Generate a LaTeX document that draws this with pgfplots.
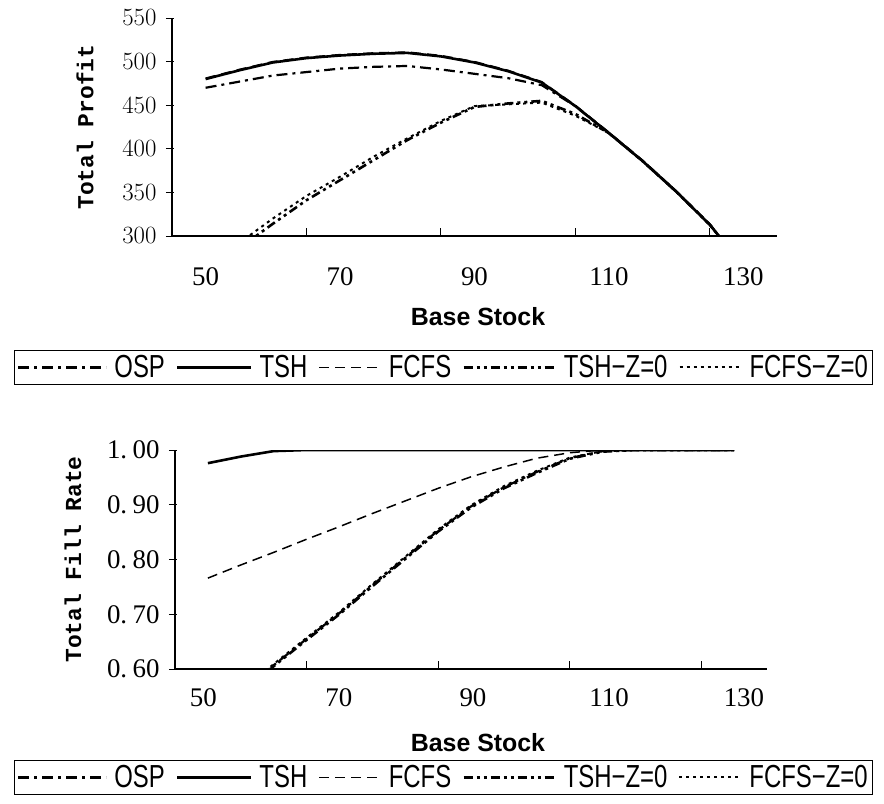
\documentclass[border=0pt]{standalone}
\usepackage{pgfplots}
\pgfplotsset{compat=1.18}
\usepackage{fontspec}
\usepackage{graphicx}
\setmainfont{Liberation Serif}
\newfontfamily\monob{Liberation Mono}
\newfontfamily\sansn{Liberation Sans}
\newcommand\tickfont{\fontsize{27}{27}\selectfont}
\newcommand\labfont{\fontsize{23}{23}\selectfont\monob\bfseries}
\newcommand\xlabfont{\fontsize{25}{25}\selectfont\sansn\bfseries}
\newcommand\legfont{\fontsize{32}{32}\selectfont\sansn}
\newcommand\legtxt[1]{\hspace{5bp}\scalebox{0.75}[1]{#1}}

\pgfplotstableread{
bs   osp  tsh  fcfs tshz fcfsz
50   470  480  481  250  262
55   477  490  491  286  292
60   484  499  500  314  320
65   488  504  505  341  346
70   492  507  508  364  368
75   494  509  510  387  391
80   495  510  511  410  412
85   491  506  507  430  432
90   486  499  500  448  449
95   481  489  490  452  451
100  473  476  477  455  453
105  449  449  450  440  438
110  418  418  419  418  418
115  386  386  387  386  386
120  351  351  352  351  351
125  313  313  314  313  313
130  265  265  266  265  265
}\profit

\pgfplotstableread{
bs   osp    tsh    fcfs   tshz   fcfsz
50   0.500  0.976  0.766  0.498  0.502
55   0.555  0.988  0.790  0.553  0.557
60   0.607  0.998  0.813  0.605  0.609
65   0.655  1.000  0.837  0.653  0.657
70   0.702  1.000  0.860  0.700  0.704
75   0.753  1.000  0.884  0.751  0.755
80   0.803  1.000  0.907  0.801  0.805
85   0.853  1.000  0.930  0.851  0.855
90   0.897  1.000  0.951  0.895  0.899
95   0.932  1.000  0.969  0.930  0.934
100  0.960  1.000  0.985  0.958  0.962
105  0.985  1.000  0.995  0.984  0.986
110  0.998  1.000  1.000  0.997  0.998
115  1.000  1.000  1.000  1.000  1.000
120  1.000  1.000  1.000  1.000  1.000
125  1.000  1.000  1.000  1.000  1.000
130  1.000  1.000  1.000  1.000  1.000
}\fillrate

\pgfplotsset{
  common/.style={
    scale only axis,
    xmin=45, xmax=135,
    axis lines*=left,
    axis line style={line width=1.5bp},
    tick align=inside,
    major tick length=8bp,
    tick style={line width=1bp, black},
    major y tick style={xshift=-6bp},
    xtick={65,85,105,125},
    xticklabels={},
    yticklabel style={xshift=-12bp},
    tick label style={font=\tickfont},
    legend columns=5,
    legend cell align=left,
    legend style={draw=black, line width=1.2bp, font=\legfont, anchor=north,
      inner xsep=3bp, inner ysep=1bp,
      /tikz/every even column/.append style={column sep=9bp},
      nodes={inner xsep=2bp, inner ysep=4bp}},
    every axis y label/.append style={font=\labfont},
    every axis x label/.append style={font=\xlabfont},
  },
  osp/.style={black, line width=2.2bp, dash pattern=on 11bp off 5bp on 3bp off 5bp,
    legend image code/.code={\draw[##1] (0bp,0bp) -- (88bp,0bp);}},
  tsh/.style={black, line width=2.6bp,
    legend image code/.code={\draw[##1] (0bp,0bp) -- (74bp,0bp);}},
  fcfs/.style={black, line width=1.5bp, dash pattern=on 10bp off 6bp,
    legend image code/.code={\draw[##1] (0bp,0bp) -- (62bp,0bp);}},
  tshz/.style={black, line width=2.6bp, dash pattern=on 9bp off 4bp on 3bp off 4bp on 3bp off 4bp,
    legend image code/.code={\draw[##1] (0bp,0bp) -- (92bp,0bp);}},
  fcfsz/.style={black, line width=2bp, dash pattern=on 3bp off 4bp,
    legend image code/.code={\draw[##1] (0bp,0bp) -- (62bp,0bp);}},
}

\begin{document}
\begin{tikzpicture}
\useasboundingbox (0bp,0bp) rectangle (884bp,-804bp);

\begin{axis}[common,
  at={(172bp,-236bp)}, anchor=south west,
  width=605bp, height=218bp,
  ymin=300, ymax=550,
  ytick={300,350,...,550},
  extra x ticks={50,70,90,110,130},
  extra x tick labels={50,70,90,110,130},
  extra x tick style={major tick length=0pt, xticklabel style={yshift=-28bp}},
  ylabel={Total Profit},
  ylabel style={at={(axis description cs:-0.1438,0.5)}, anchor=center, rotate=0},
  xlabel={Base Stock},
  xlabel style={at={(axis description cs:0.5058,-0.3716)}, anchor=center},
  legend style={at={(0.4488,-0.5229)}},
]
\addplot[osp] table[x=bs,y=osp] {\profit};
\addplot[tsh] table[x=bs,y=tsh] {\profit};
\addplot[fcfs] table[x=bs,y=fcfs] {\profit};
\addplot[tshz] table[x=bs,y=tshz] {\profit};
\addplot[fcfsz] table[x=bs,y=fcfsz] {\profit};
\legend{\legtxt{OSP},\legtxt{TSH},\legtxt{FCFS},\legtxt{TSH−Z=0},\legtxt{FCFS−Z=0}}
\end{axis}

\begin{axis}[common,
  at={(175bp,-669bp)}, anchor=south west,
  width=592bp, height=219bp,
  ymin=0.6, ymax=1.0,
  ytick={0.6,0.7,0.8,0.9,1.0},
  yticklabels={0.\hspace{0.2em}60,0.\hspace{0.2em}70,0.\hspace{0.2em}80,0.\hspace{0.2em}90,1.\hspace{0.2em}00},
  extra x ticks={49.3,69.9,90.3,111,131.5},
  extra x tick labels={50,70,90,110,130},
  extra x tick style={major tick length=0pt, xticklabel style={yshift=-16bp}},
  ylabel={Total Fill Rate},
  ylabel style={at={(axis description cs:-0.1723,0.5)}, anchor=center, rotate=0},
  xlabel={Base Stock},
  xlabel style={at={(axis description cs:0.5118,-0.338)}, anchor=center},
  legend style={at={(0.4535,-0.4155)}},
]
\addplot[osp] table[x=bs,y=osp] {\fillrate};
\addplot[tsh] table[x=bs,y=tsh] {\fillrate};
\addplot[fcfs] table[x=bs,y=fcfs] {\fillrate};
\addplot[tshz] table[x=bs,y=tshz] {\fillrate};
\addplot[fcfsz] table[x=bs,y=fcfsz] {\fillrate};
\legend{\legtxt{OSP},\legtxt{TSH},\legtxt{FCFS},\legtxt{TSH−Z=0},\legtxt{FCFS−Z=0}}
\end{axis}
\end{tikzpicture}
\end{document}
